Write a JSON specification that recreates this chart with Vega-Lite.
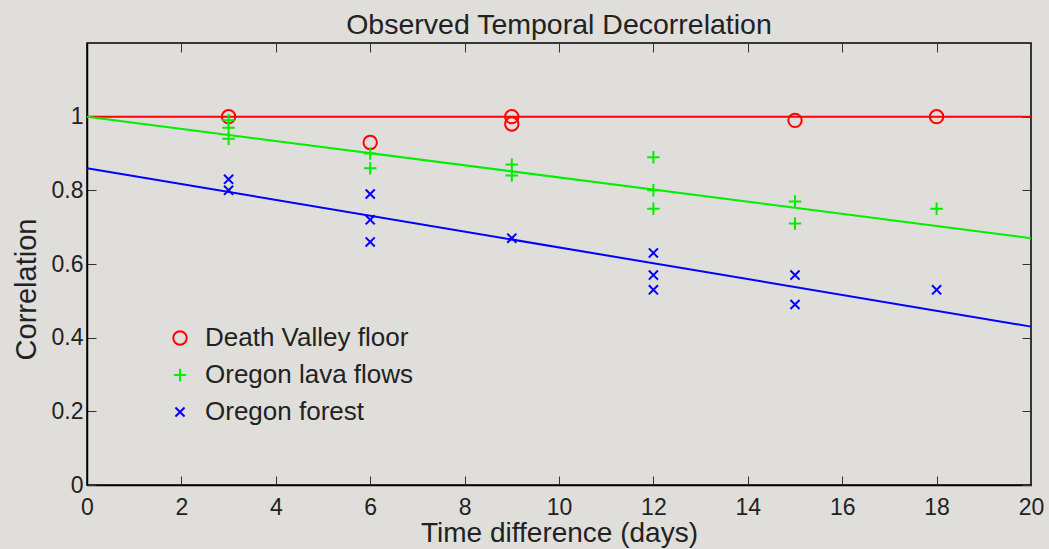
{
  "$schema": "https://vega.github.io/schema/vega-lite/v6.json",
  "width": 944,
  "height": 442,
  "autosize": {"type": "none"},
  "padding": {"left": 87, "top": 43, "right": 18, "bottom": 64},
  "background": "#dfdedb",
  "title": {"text": "Observed Temporal Decorrelation", "fontSize": 28.5, "font": "Liberation Sans", "fontWeight": "normal", "color": "#222222", "baseline": "alphabetic", "offset": -20, "anchor": "middle"},
  "config": {
    "view": {"stroke": "#000000", "strokeWidth": 1.5, "fill": null},
    "font": "Liberation Sans",
    "axis": {"grid": false, "labelFlush": false, "domainColor": "#000000", "domainWidth": 1.5, "tickColor": "#333333", "tickWidth": 1, "labelFont": "Liberation Sans", "labelFontSize": 23, "labelColor": "#222222", "titleFont": "Liberation Sans", "titleFontSize": 28, "titleFontWeight": "normal", "titleColor": "#222222"},
    "legend": {"labelFont": "Liberation Sans", "labelFontSize": 26, "labelColor": "#222222", "labelLimit": 400}
  },
  "datasets": {
    "fits": [
      {"days": 0, "corr": 1.0, "fit": "Death Valley floor fit"},
      {"days": 20, "corr": 1.0, "fit": "Death Valley floor fit"},
      {"days": 0, "corr": 1.0, "fit": "Oregon lava flows fit"},
      {"days": 20, "corr": 0.67, "fit": "Oregon lava flows fit"},
      {"days": 0, "corr": 0.86, "fit": "Oregon forest fit"},
      {"days": 20, "corr": 0.43, "fit": "Oregon forest fit"}
    ],
    "obs": [
      {"days": 3, "corr": 1.0, "series": "Death Valley floor"},
      {"days": 6, "corr": 0.93, "series": "Death Valley floor"},
      {"days": 9, "corr": 1.0, "series": "Death Valley floor"},
      {"days": 9, "corr": 0.98, "series": "Death Valley floor"},
      {"days": 15, "corr": 0.99, "series": "Death Valley floor"},
      {"days": 18, "corr": 1.0, "series": "Death Valley floor"},
      {"days": 3, "corr": 0.99, "series": "Oregon lava flows"},
      {"days": 3, "corr": 0.97, "series": "Oregon lava flows"},
      {"days": 3, "corr": 0.94, "series": "Oregon lava flows"},
      {"days": 6, "corr": 0.9, "series": "Oregon lava flows"},
      {"days": 6, "corr": 0.86, "series": "Oregon lava flows"},
      {"days": 9, "corr": 0.87, "series": "Oregon lava flows"},
      {"days": 9, "corr": 0.84, "series": "Oregon lava flows"},
      {"days": 12, "corr": 0.89, "series": "Oregon lava flows"},
      {"days": 12, "corr": 0.8, "series": "Oregon lava flows"},
      {"days": 12, "corr": 0.75, "series": "Oregon lava flows"},
      {"days": 15, "corr": 0.77, "series": "Oregon lava flows"},
      {"days": 15, "corr": 0.71, "series": "Oregon lava flows"},
      {"days": 18, "corr": 0.75, "series": "Oregon lava flows"},
      {"days": 3, "corr": 0.83, "series": "Oregon forest"},
      {"days": 3, "corr": 0.8, "series": "Oregon forest"},
      {"days": 6, "corr": 0.79, "series": "Oregon forest"},
      {"days": 6, "corr": 0.72, "series": "Oregon forest"},
      {"days": 6, "corr": 0.66, "series": "Oregon forest"},
      {"days": 9, "corr": 0.67, "series": "Oregon forest"},
      {"days": 12, "corr": 0.63, "series": "Oregon forest"},
      {"days": 12, "corr": 0.57, "series": "Oregon forest"},
      {"days": 12, "corr": 0.53, "series": "Oregon forest"},
      {"days": 15, "corr": 0.57, "series": "Oregon forest"},
      {"days": 15, "corr": 0.49, "series": "Oregon forest"},
      {"days": 18, "corr": 0.53, "series": "Oregon forest"}
    ]
  },
  "layer": [
    {
      "data": {"name": "fits"},
      "mark": {"type": "line", "strokeWidth": 2},
      "encoding": {
        "x": {"field": "days", "type": "quantitative", "scale": {"domain": [0, 20], "nice": false, "zero": false}, "axis": {"orient": "top", "labels": false, "title": null, "values": [0, 2, 4, 6, 8, 10, 12, 14, 16, 18, 20], "tickSize": -9, "domain": false}},
        "y": {"field": "corr", "type": "quantitative", "scale": {"domain": [0, 1.2], "nice": false, "zero": false}, "axis": {"orient": "right", "labels": false, "title": null, "values": [0, 0.2, 0.4, 0.6, 0.8, 1], "tickSize": -9, "domain": false}},
        "stroke": {"field": "fit", "type": "nominal", "scale": {"domain": ["Death Valley floor fit", "Oregon lava flows fit", "Oregon forest fit"], "range": ["#ff0000", "#00ee00", "#0000ff"]}, "legend": null},
        "detail": {"field": "fit"}
      }
    },
    {
      "data": {"name": "obs"},
      "mark": {"type": "point", "filled": false, "strokeWidth": 2, "opacity": 1, "size": 180},
      "encoding": {
        "x": {"field": "days", "type": "quantitative", "axis": {"orient": "bottom", "title": "Time difference (days)", "values": [0, 2, 4, 6, 8, 10, 12, 14, 16, 18, 20], "format": "d", "tickSize": -9, "labelPadding": 20, "titlePadding": 0}},
        "y": {"field": "corr", "type": "quantitative", "axis": {"orient": "left", "title": "Correlation", "titleFontSize": 29, "titleY": 246, "values": [0, 0.2, 0.4, 0.6, 0.8, 1], "format": "~g", "tickSize": -9, "labelPadding": 13, "titlePadding": 10}},
        "color": {"field": "series", "type": "nominal", "scale": {"domain": ["Death Valley floor", "Oregon lava flows", "Oregon forest"], "range": ["#ff0000", "#00ee00", "#0000ff"]}, "title": null,
          "legend": {"orient": "none", "legendX": 80, "legendY": 282, "rowPadding": 11, "labelOffset": 12, "symbolStrokeWidth": 2, "symbolSize": 180}},
        "shape": {"field": "series", "type": "nominal", "scale": {"domain": ["Death Valley floor", "Oregon lava flows", "Oregon forest"], "range": ["circle", "M-0.93,0H0.93M0,-0.93V0.93", "M-0.68,-0.68L0.68,0.68M-0.68,0.68L0.68,-0.68"]}, "title": null}
      }
    }
  ]
}
